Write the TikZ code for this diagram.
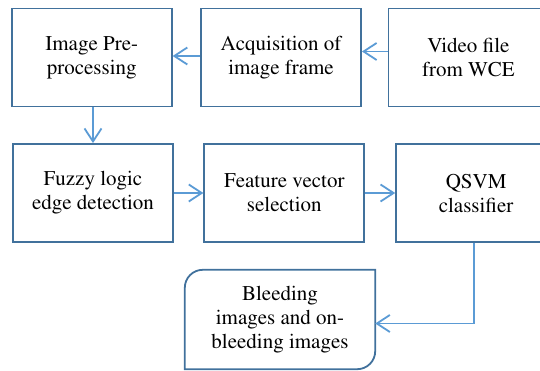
\documentclass[tikz,border=0pt]{standalone}
\usepackage[T1]{fontenc}
\usepackage{mathptmx}
\usetikzlibrary{positioning,arrows.meta}
\definecolor{boxblue}{HTML}{41719C}
\definecolor{arrowblue}{HTML}{5B9BD5}

\begin{document}
\begin{tikzpicture}[x=1pt,y=-1pt,
every node/.style = {align=center, font=\rmfamily\fontsize{21}{24}\selectfont},
stage/.style = {draw=boxblue, line width=1.8pt, shape=rectangle, minimum width=160pt, minimum height=98pt, inner sep=0pt},
flow/.style = {draw=arrowblue, line width=1.8pt, -{Straight Barb[length=13pt,width=17pt,line width=1.8pt]}}]
\useasboundingbox (0,0) rectangle (540,371);
\clip (0,0) rectangle (540,371);
\node[stage] (pre) at (91.75,57.5) {Image Pre-\\processing};
\node[stage, right=27.5pt of pre] (acq) {Acquisition of\\image frame};
\node[stage, right=25.6pt of acq] (video) {Video file\\from WCE};
\node[stage] (fuzzy) at (93,193) {Fuzzy logic\\edge detection};
\node[stage, right=29.5pt of fuzzy] (feat) {Feature vector\\selection};
\node[stage, right=30pt of feat] (svm) {QSVM\\classifier};
\node[minimum width=190pt, minimum height=99pt, inner sep=0pt] (out) at (280,319.5) {Bleeding\\images and on-\\bleeding images};
\draw[boxblue, line width=1.8pt] (out.north east) -- ([xshift=18pt]out.north west) arc[start angle=90, end angle=180, radius=18pt] -- (out.south west) -- ([xshift=-18pt]out.south east) arc[start angle=270, end angle=360, radius=18pt] -- cycle;
\draw[flow] ([yshift=6pt]video.west) -- ([yshift=6pt]acq.east);
\draw[flow] ([yshift=1.5pt]acq.west) -- ([yshift=1.5pt]pre.east);
\draw[flow] (pre.south -| fuzzy.north) -- (fuzzy.north);
\draw[flow] (fuzzy.east) -- (feat.west);
\draw[flow] (feat.east) -- (svm.west);
\draw[flow] ([xshift=-2pt]svm.south) |- ([yshift=-4pt]out.east);
\end{tikzpicture}
\end{document}
